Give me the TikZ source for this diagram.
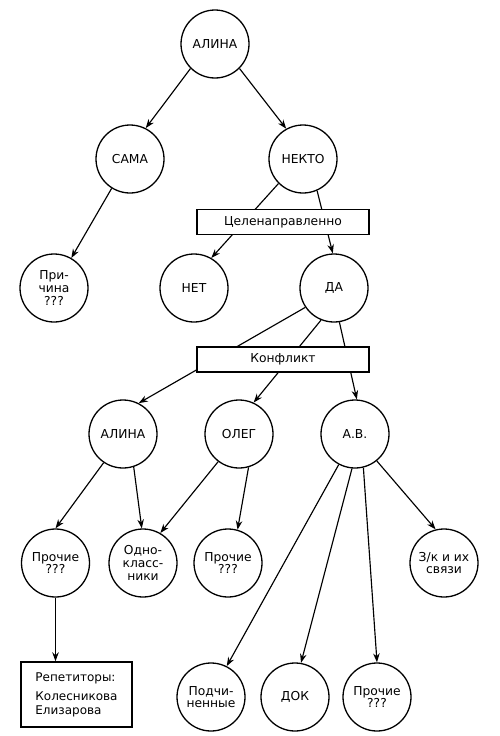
\documentclass[tikz,border=0pt]{standalone}
\usepackage{fontspec}
\setmainfont{DejaVu Sans}
\usetikzlibrary{arrows.meta}
\begin{document}
\begin{tikzpicture}[x=1pt,y=-1pt,
  circ/.style={circle,draw,line width=1.3pt,minimum size=68pt,inner sep=0pt,
    font=\fontsize{12.3}{12.8}\selectfont,align=center},
  lbl/.style={rectangle,draw,line width=1.4pt,fill=white,minimum width=172pt,
    minimum height=25pt,inner sep=0pt,font=\fontsize{12.3}{13}\selectfont},
  notebox/.style={rectangle,draw,line width=1.4pt,fill=white,minimum width=111pt,
    minimum height=65pt,inner sep=0pt,font=\fontsize{12}{14}\selectfont,align=left},
  arr/.style={-{Stealth[length=9pt,width=6.5pt]},line width=1.15pt}]
\useasboundingbox (0,0) rectangle (500,736);
\node[circ] (alina) at (215,44) {АЛИНА};
\node[circ] (sama) at (130,159) {САМА};
\node[circ] (nekto) at (303,159) {НЕКТО};
\node[circ] (prich) at (54,288) {При-\\чина\\???};
\node[circ] (net) at (194,288) {НЕТ};
\node[circ] (da) at (334,288) {ДА};
\node[circ] (alina2) at (123,434) {АЛИНА};
\node[circ] (oleg) at (239,434) {ОЛЕГ};
\node[circ] (av) at (355,434) {А.В.};
\node[circ] (proch1) at (55.5,563) {Прочие\\???};
\node[circ] (odno) at (143,563) {Одно-\\класс-\\ники};
\node[circ] (proch2) at (228,563) {Прочие\\???};
\node[circ] (zk) at (444,563) {З/к и их\\связи};
\node[circ] (podch) at (211,697) {Подчи-\\ненные};
\node[circ] (dok) at (295,697) {ДОК};
\node[circ] (proch3) at (377,697) {Прочие\\???};
\node[notebox] (rep) at (76.5,694.5) {Репетиторы:\\[5pt]Колесникова\\Елизарова};
% connectors
\draw[arr] (alina.225) -- (sama.63);
\draw[arr] (alina.315) -- (nekto.119);
\draw[arr] (sama.238) -- (prich.60);
\draw[arr] (nekto.225) -- (net.60);
\draw[arr] (nekto.294) -- (da.92);
\draw[arr] (da.214) -- (alina2.63);
\draw[arr] (da.248) -- (oleg.65);
\draw[arr] (da.279) -- (av.87);
\draw[arr] (alina2.236) -- (proch1.90);
\draw[arr] (alina2.288) -- (odno.92);
\draw[arr] (oleg.233) -- (odno.60);
\draw[arr] (oleg.286) -- (proch2.74);
\draw[arr] (av.242) -- (podch.63);
\draw[arr] (av.265) -- (dok.80);
\draw[arr] (av.284) -- (proch3.90);
\draw[arr] (av.309) -- (zk.104);
\draw[arr] (proch1.south) -- (proch1.south |- rep.north);
% labels over the connectors
\node[lbl] (goal) at (283,222) {Целенаправленно};
\node[lbl] (conf) at (283,359.5) {Конфликт};
\end{tikzpicture}
\end{document}
